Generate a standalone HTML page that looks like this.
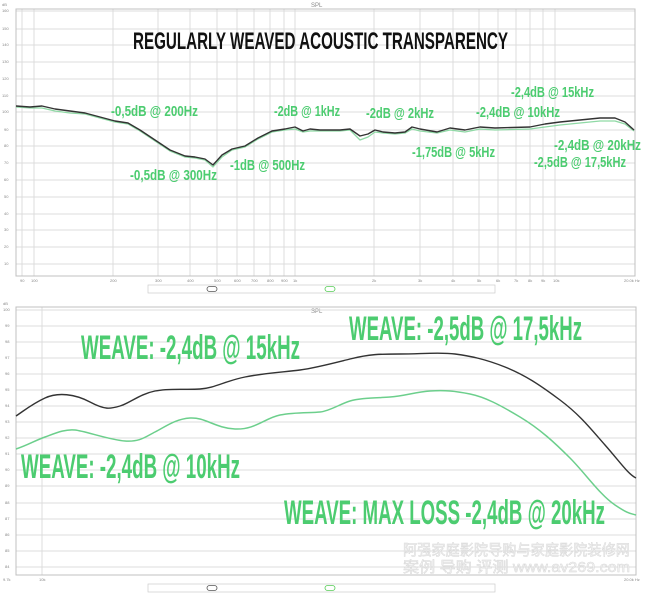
<!DOCTYPE html>
<html><head><meta charset="utf-8"><style>
html,body{margin:0;padding:0;background:#fff;}
svg{display:block;}
text{font-family:"Liberation Sans","Noto Sans CJK SC",sans-serif;}
</style></head><body>
<svg width="650" height="597" viewBox="0 0 650 597" xmlns="http://www.w3.org/2000/svg">
<rect width="650" height="597" fill="#fff"/>
<g stroke="#dcdcdc" stroke-width="1">
<line x1="16" y1="11" x2="635" y2="11"/><line x1="16" y1="29" x2="635" y2="29"/><line x1="16" y1="45" x2="635" y2="45"/><line x1="16" y1="62" x2="635" y2="62"/><line x1="16" y1="79" x2="635" y2="79"/><line x1="16" y1="96" x2="635" y2="96"/><line x1="16" y1="112" x2="635" y2="112"/><line x1="16" y1="130" x2="635" y2="130"/><line x1="16" y1="146" x2="635" y2="146"/><line x1="16" y1="163" x2="635" y2="163"/><line x1="16" y1="180" x2="635" y2="180"/><line x1="16" y1="197" x2="635" y2="197"/><line x1="16" y1="214" x2="635" y2="214"/><line x1="16" y1="230" x2="635" y2="230"/><line x1="16" y1="247" x2="635" y2="247"/><line x1="16" y1="264" x2="635" y2="264"/>
<line x1="22" y1="9" x2="22" y2="276"/><line x1="34" y1="9" x2="34" y2="276"/><line x1="113" y1="9" x2="113" y2="276"/><line x1="158" y1="9" x2="158" y2="276"/><line x1="190" y1="9" x2="190" y2="276"/><line x1="217" y1="9" x2="217" y2="276"/><line x1="237" y1="9" x2="237" y2="276"/><line x1="254" y1="9" x2="254" y2="276"/><line x1="270" y1="9" x2="270" y2="276"/><line x1="284" y1="9" x2="284" y2="276"/><line x1="295" y1="9" x2="295" y2="276"/><line x1="374" y1="9" x2="374" y2="276"/><line x1="420" y1="9" x2="420" y2="276"/><line x1="453" y1="9" x2="453" y2="276"/><line x1="479" y1="9" x2="479" y2="276"/><line x1="498" y1="9" x2="498" y2="276"/><line x1="516" y1="9" x2="516" y2="276"/><line x1="530" y1="9" x2="530" y2="276"/><line x1="543" y1="9" x2="543" y2="276"/><line x1="555" y1="9" x2="555" y2="276"/>
</g>
<rect x="16" y="9" width="619" height="267" fill="none" stroke="#c0c0c0"/>
<g font-size="4" fill="#888">
<text x="2" y="6">dB</text>
<text x="2" y="12">160</text><text x="2" y="30">150</text><text x="2" y="46">140</text><text x="2" y="63">130</text><text x="2" y="80">120</text><text x="2" y="97">110</text><text x="2" y="113">100</text><text x="4" y="131">90</text><text x="4" y="147">80</text><text x="4" y="164">70</text><text x="4" y="181">60</text><text x="4" y="198">50</text><text x="4" y="215">40</text><text x="4" y="231">30</text><text x="4" y="248">20</text><text x="4" y="265">10</text>
<text x="20" y="282">90</text><text x="31" y="282">100</text><text x="110" y="282">200</text><text x="155" y="282">300</text><text x="187" y="282">400</text><text x="214" y="282">500</text><text x="234" y="282">600</text><text x="251" y="282">700</text><text x="267" y="282">800</text><text x="281" y="282">900</text><text x="293" y="282">1k</text><text x="372" y="282">2k</text><text x="418" y="282">3k</text><text x="451" y="282">4k</text><text x="477" y="282">5k</text><text x="496" y="282">6k</text><text x="514" y="282">7k</text><text x="528" y="282">8k</text><text x="541" y="282">9k</text><text x="553" y="282">10k</text><text x="624" y="282">20.0k Hz</text>
<text x="311" y="7" font-size="6">SPL</text>
<text x="311" y="313" font-size="6">SPL</text>
</g>
<rect x="148" y="285" width="347" height="8" fill="#fff" stroke="#ccc" stroke-width="0.7"/>
<rect x="207" y="286.5" width="10" height="5" rx="2.5" fill="none" stroke="#555" stroke-width="0.8"/>
<rect x="325" y="286.5" width="10" height="5" rx="2.5" fill="none" stroke="#5c5" stroke-width="0.8"/>
<rect x="148" y="584" width="347" height="8" fill="#fff" stroke="#ccc" stroke-width="0.7"/>
<rect x="207" y="585.5" width="10" height="5" rx="2.5" fill="none" stroke="#555" stroke-width="0.8"/>
<rect x="325" y="585.5" width="10" height="5" rx="2.5" fill="none" stroke="#5c5" stroke-width="0.8"/>

<polyline fill="none" stroke="#8fd9a5" stroke-width="1.3" stroke-linejoin="round" points="16,107 30,108 42,108 55,111 70,113 85,114 100,118 115,122 128,124 140,131 155,141 170,151 185,157 195,158 205,160 213,167 222,157 232,150 245,147 258,139 272,132 285,130 295,129 303,132 310,131 320,131 340,131 350,130 360,140 368,137 375,132 383,133 395,134 405,133 412,129 420,131 437,133 450,130 465,132 480,129 495,130 530,129 545,127 560,125 580,123 600,121 615,121 625,124 634,131"/>
<polyline fill="none" stroke="#333" stroke-width="1.4" stroke-linejoin="round" points="16,106 30,107 42,106 55,109 70,111 85,113 100,117 115,121 128,123 140,130 155,140 170,150 185,156 195,157 205,159 213,165 222,155 232,149 245,146 258,138 272,131 285,129 295,127 303,131 310,129 320,130 340,130 350,129 360,136 368,134 375,130 383,132 395,133 405,132 412,127 420,129 437,132 450,128 465,130 480,127 495,128 530,127 545,124 560,122 580,120 600,118 615,118 625,122 634,130"/>

<text x="133" y="49" font-size="24" font-weight="bold" fill="#111" textLength="375" lengthAdjust="spacingAndGlyphs">REGULARLY WEAVED ACOUSTIC TRANSPARENCY</text>
<g fill="#4ccc70" font-size="15" font-weight="bold">
<text x="111" y="116" textLength="87" lengthAdjust="spacingAndGlyphs">-0,5dB @ 200Hz</text>
<text x="130" y="180" textLength="87" lengthAdjust="spacingAndGlyphs">-0,5dB @ 300Hz</text>
<text x="230" y="170" textLength="75" lengthAdjust="spacingAndGlyphs">-1dB @ 500Hz</text>
<text x="274" y="116" textLength="66" lengthAdjust="spacingAndGlyphs">-2dB @ 1kHz</text>
<text x="366" y="118" textLength="68" lengthAdjust="spacingAndGlyphs">-2dB @ 2kHz</text>
<text x="412" y="157" textLength="83" lengthAdjust="spacingAndGlyphs">-1,75dB @ 5kHz</text>
<text x="476" y="117" textLength="84" lengthAdjust="spacingAndGlyphs">-2,4dB @ 10kHz</text>
<text x="511" y="97" textLength="83" lengthAdjust="spacingAndGlyphs">-2,4dB @ 15kHz</text>
<text x="554" y="150" textLength="87" lengthAdjust="spacingAndGlyphs">-2,4dB @ 20kHz</text>
<text x="534" y="167" textLength="92" lengthAdjust="spacingAndGlyphs">-2,5dB @ 17,5kHz</text>
</g>

<g stroke="#dcdcdc" stroke-width="1">
<line x1="16" y1="310" x2="636" y2="310"/><line x1="16" y1="326" x2="636" y2="326"/><line x1="16" y1="342" x2="636" y2="342"/><line x1="16" y1="358" x2="636" y2="358"/><line x1="16" y1="374" x2="636" y2="374"/><line x1="16" y1="390" x2="636" y2="390"/><line x1="16" y1="406" x2="636" y2="406"/><line x1="16" y1="422" x2="636" y2="422"/><line x1="16" y1="438" x2="636" y2="438"/><line x1="16" y1="454" x2="636" y2="454"/><line x1="16" y1="470" x2="636" y2="470"/><line x1="16" y1="486" x2="636" y2="486"/><line x1="16" y1="503" x2="636" y2="503"/><line x1="16" y1="519" x2="636" y2="519"/><line x1="16" y1="535" x2="636" y2="535"/><line x1="16" y1="551" x2="636" y2="551"/><line x1="16" y1="567" x2="636" y2="567"/>
<line x1="42" y1="307" x2="42" y2="575"/>
</g>
<rect x="16" y="307" width="620" height="268" fill="none" stroke="#c0c0c0"/>
<g font-size="4" fill="#888">
<text x="3" y="305">dB</text>
<text x="3" y="311">100</text><text x="5" y="327">99</text><text x="5" y="343">98</text><text x="5" y="359">97</text><text x="5" y="375">96</text><text x="5" y="391">95</text><text x="5" y="407">94</text><text x="5" y="423">93</text><text x="5" y="439">92</text><text x="5" y="455">91</text><text x="5" y="471">90</text><text x="5" y="487">89</text><text x="5" y="504">88</text><text x="5" y="520">87</text><text x="5" y="536">86</text><text x="5" y="552">85</text><text x="5" y="568">84</text>
<text x="3" y="581">9.7k</text><text x="39" y="581">10k</text><text x="624" y="581">20.0k Hz</text>
</g>
<path fill="none" stroke="#6ccf8c" stroke-width="1.5" stroke-linejoin="round" d="M16,449 C28,445 34,441 45,437 S65,429 75,430 S110,440 125,441 S145,437 155,432 S175,419 190,418 S215,428 235,429 S265,418 280,415 S310,413 320,412 S340,404 350,401 S375,398 390,397 S415,392 430,391 S455,391 470,394 S500,405 520,417 S555,443 570,458 S600,495 615,505 S630,513 636,515"/>
<path fill="none" stroke="#333" stroke-width="1.4" stroke-linejoin="round" d="M16,416 C25,410 32,404 45,398 S75,394 90,402 S110,409 120,406 S140,394 155,391 S185,390 200,389 S225,381 245,377 S285,372 300,370 S330,364 350,359 S380,354 400,354 S440,352 455,354 S485,359 505,367 S540,385 560,400 S590,428 605,445 S628,474 636,478"/>

<g fill="#4ccc70" font-size="34" font-weight="bold">
<text x="81" y="359" textLength="219" lengthAdjust="spacingAndGlyphs">WEAVE: -2,4dB @ 15kHz</text>
<text x="349" y="340" textLength="233" lengthAdjust="spacingAndGlyphs">WEAVE:  -2,5dB @ 17,5kHz</text>
<text x="21" y="478" textLength="219" lengthAdjust="spacingAndGlyphs">WEAVE: -2,4dB @ 10kHz</text>
<text x="284" y="524" textLength="321" lengthAdjust="spacingAndGlyphs">WEAVE: MAX LOSS -2,4dB @ 20kHz</text>
</g>
<g fill="#f2f2f2" stroke="#d8d8d8" stroke-width="0.5" font-size="15">
<text x="403" y="555" textLength="227" lengthAdjust="spacingAndGlyphs">阿强家庭影院导购与家庭影院装修网</text>
<text x="403" y="572" textLength="227" lengthAdjust="spacingAndGlyphs">案例  导购  评测   www.av269.com</text>
</g>
</svg>
</body></html>
